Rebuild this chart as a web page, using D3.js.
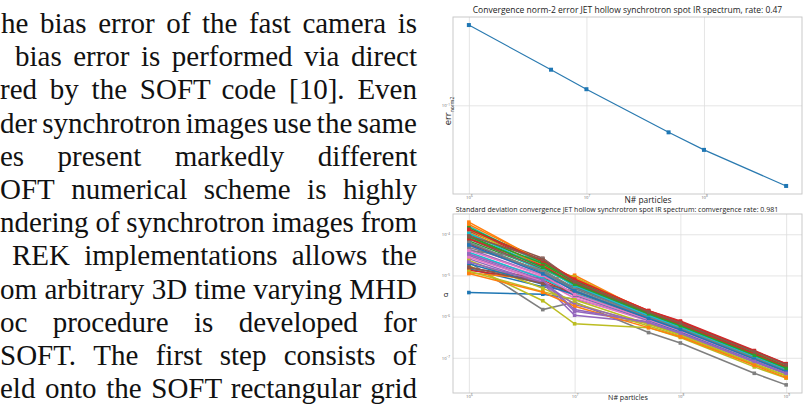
<!DOCTYPE html>
<html>
<head>
<meta charset="utf-8">
<script src="https://cdn.jsdelivr.net/npm/d3@7"></script>
<style>
  body { margin: 0; background: #fff; }
  svg { display: block; }
</style>
</head>
<body>
<svg id="root" width="803" height="406"></svg>
<script>
// ---- data ----
const bodyLines = [
  "he bias error of the fast camera is",
  "bias error is performed via direct",
  "red by the SOFT code [10]. Even",
  "der synchrotron images use the same",
  "es present markedly different",
  "OFT numerical scheme is highly",
  "ndering of synchrotron images from",
  "REK implementations allows the",
  "om arbitrary 3D time varying MHD",
  "oc procedure is developed for",
  "SOFT. The first step consists of",
  "eld onto the SOFT rectangular grid"
];

const titleTop = "Convergence norm-2 error JET hollow synchrotron spot IR spectrum, rate: 0.47";
const titleStd = "Standard deviation convergence JET hollow synchrotron spot IR spectrum: comvergence rate: 0.981";
const xLabel = "N# particles";

const particlesTop = [1e6, 5e6, 1e7, 5e7, 1e8, 5e8];
const errNorm2 = [0.43, 0.191, 0.134, 0.0612, 0.0445, 0.0231];
const xTicksTop = [1e6, 1e7, 1e8];
const yTicksTop = [1e-1];

const particlesStd = [1e6, 5e6, 1e7, 5e7, 1e8, 5e8, 1e9];
const xTicksStd = [1e6, 1e7, 1e8, 1e9];
const yTicksStd = [1e-4, 1e-5, 1e-6, 1e-7];
// one row per spectral channel (sigma at each particle count)
const sigmaSeries = [
  [3.84e-6, 3.5e-6, 2.66e-6, 9.0e-7, 4.5e-7, 9.5e-8, 4.8e-8],
  [1.97e-4, 2.11e-5, 6.8e-6, 1.30e-6, 6.7e-7, 1.30e-7, 6.2e-8],
  [9.1e-5, 1.60e-5, 5.8e-6, 1.12e-6, 5.9e-7, 1.14e-7, 5.5e-8],
  [1.20e-4, 2.11e-5, 7.7e-6, 1.40e-6, 7.8e-7, 1.50e-7, 7.2e-8],
  [4.4e-5, 1.01e-5, 3.4e-6, 8.5e-7, 4.9e-7, 1.00e-7, 5.0e-8],
  [1.20e-4, 2.62e-5, 7.3e-6, 1.35e-6, 7.4e-7, 1.45e-7, 6.95e-8],
  [3.33e-5, 9.2e-6, 3.1e-6, 8.1e-7, 4.7e-7, 9.5e-8, 4.7e-8],
  [2.11e-5, 1.48e-6, 2.25e-6, 4.1e-7, 2.29e-7, 4.2e-8, 2.2e-8],
  [1.75e-5, 2.43e-6, 6.7e-7, 5.4e-7, 3.12e-7, 6.0e-8, 3.2e-8],
  [1.58e-4, 1.92e-5, 5.3e-6, 1.08e-6, 5.6e-7, 1.08e-7, 5.2e-8],
  [1.46e-5, 5.3e-6, 4.05e-6, 9.7e-7, 5.1e-7, 1.04e-7, 5.0e-8],
  [1.17e-5, 7.7e-6, 1.01e-5, 1.23e-6, 6.3e-7, 1.20e-7, 6.0e-8],
  [6.9e-5, 1.41e-5, 6.4e-6, 1.19e-6, 6.3e-7, 1.20e-7, 5.8e-8],
  [5.8e-5, 1.22e-5, 4.9e-6, 1.08e-6, 5.9e-7, 1.14e-7, 5.6e-8],
  [2.53e-5, 6.4e-6, 1.08e-6, 7.1e-7, 3.74e-7, 7.9e-8, 4.2e-8],
  [1.52e-5, 8.4e-6, 5.3e-6, 1.03e-6, 5.4e-7, 1.04e-7, 5.2e-8],
  [5.3e-5, 1.11e-5, 4.05e-6, 9.7e-7, 5.4e-7, 1.04e-7, 5.2e-8],
  [4.0e-5, 2.53e-5, 6.4e-6, 1.08e-6, 5.6e-7, 1.08e-7, 5.2e-8],
  [1.32e-4, 1.60e-5, 9.2e-6, 1.23e-6, 6.5e-7, 1.25e-7, 6.0e-8],
  [8.3e-5, 1.33e-5, 4.4e-6, 9.4e-7, 4.9e-7, 9.5e-8, 4.7e-8],
  [6.3e-5, 1.17e-5, 4.9e-6, 1.03e-6, 5.4e-7, 1.04e-7, 5.0e-8],
  [1.10e-4, 1.75e-5, 8.4e-6, 1.30e-6, 6.7e-7, 1.30e-7, 6.2e-8],
  [1.00e-4, 1.92e-5, 6.8e-6, 1.23e-6, 6.5e-7, 1.25e-7, 6.0e-8],
  [1.33e-5, 7.7e-6, 3.4e-6, 9.0e-7, 4.7e-7, 9.0e-8, 4.6e-8],
  [3.04e-5, 7.0e-6, 1.35e-6, 7.5e-7, 4.1e-7, 8.3e-8, 4.3e-8],
  [7.6e-5, 1.46e-5, 6.1e-6, 1.12e-6, 5.9e-7, 1.14e-7, 5.5e-8],
  [2.77e-5, 7.3e-6, 2.8e-6, 7.8e-7, 4.3e-7, 8.7e-8, 4.4e-8],
  [4.8e-5, 1.33e-5, 5.0e-6, 9.7e-7, 5.2e-7, 1.00e-7, 4.8e-8],
  [2.31e-5, 4.9e-6, 2.13e-6, 5.9e-7, 3.4e-7, 6.95e-8, 3.6e-8],
  [3.65e-5, 8.4e-6, 3.7e-6, 8.5e-7, 4.7e-7, 9.1e-8, 4.6e-8],
  [1.92e-5, 6.1e-6, 3.4e-6, 8.1e-7, 4.3e-7, 8.7e-8, 4.3e-8],
  [1.73e-4, 2.19e-5, 8.4e-6, 1.35e-6, 7.0e-7, 1.34e-7, 6.5e-8],
  [1.44e-4, 2.11e-5, 7.3e-6, 1.28e-6, 6.7e-7, 1.30e-7, 6.2e-8],
  [7.9e-5, 1.69e-5, 6.4e-6, 1.21e-6, 6.5e-7, 1.25e-7, 6.0e-8],
  [2.11e-5, 6.8e-6, 1.95e-6, 6.7e-7, 3.9e-7, 7.9e-8, 4.0e-8],
  [1.60e-5, 6.4e-6, 4.05e-6, 9.0e-7, 4.9e-7, 9.5e-8, 4.7e-8],
  [4.0e-5, 1.01e-5, 3.5e-6, 8.4e-7, 4.5e-7, 9.0e-8, 4.5e-8],
  [6.3e-5, 1.22e-5, 4.4e-6, 9.4e-7, 5.0e-7, 9.8e-8, 4.9e-8],
  [1.26e-5, 4.05e-6, 2.56e-6, 6.5e-7, 3.6e-7, 7.2e-8, 3.7e-8],
  [1.06e-4, 1.52e-5, 5.6e-6, 1.06e-6, 5.6e-7, 1.08e-7, 5.3e-8],
  [5.5e-5, 1.09e-5, 4.2e-6, 9.0e-7, 4.8e-7, 9.3e-8, 4.65e-8],
  [1.11e-5, 3.9e-6, 1.78e-6, 5.4e-7, 3.24e-7, 6.6e-8, 3.3e-8],
  [8.8e-5, 1.57e-5, 6.1e-6, 1.17e-6, 6.0e-7, 1.16e-7, 5.6e-8],
  [1.32e-4, 2.27e-5, 8.1e-6, 1.40e-6, 7.5e-7, 1.45e-7, 7.1e-8],
  [3.33e-5, 7.7e-6, 1.48e-6, 7.2e-7, 4.0e-7, 8.2e-8, 4.2e-8],
  [9.1e-5, 2.44e-5, 7.0e-6, 1.30e-6, 7.0e-7, 1.39e-7, 6.8e-8]
];

// ---- layout ----
const size = { width: 803, height: 406 };
const column = { right: 417, firstBaseline: 33, lineStep: 33.2, fontSize: 29, minGap: 3 };
const lineStartX = [1, 15, 0, 0, 0, 0, 0, 12, 0, 0, 0, 0];
const boxTop = { left: 453, right: 802, top: 17, bottom: 194 };
const boxStd = { left: 453, right: 802, top: 214, bottom: 393 };
const gridColor = "#dedede";
const frameColor = "#c4c4c4";
const sansFont = "'Open Sans', 'Noto Sans', sans-serif";

const svg = d3.select("#root")
  .attr("width", size.width)
  .attr("height", size.height);

svg.append("rect").attr("width", size.width).attr("height", size.height).attr("fill", "#fff");

// ---- justified body text on the left ----
const body = svg.append("g")
  .attr("font-family", "'Liberation Serif', 'Times New Roman', serif")
  .attr("font-size", column.fontSize)
  .attr("fill", "#111");

bodyLines.forEach((line, i) => {
  const words = line.split(" ");
  const y = column.firstBaseline + i * column.lineStep;
  const x0 = lineStartX[i];
  const target = column.right - x0;
  const text = body.append("text");
  const spans = words.map(w => text.append("tspan").text(w));
  const widths = spans.map(s => s.node().getComputedTextLength());
  const gaps = Math.max(1, words.length - 1);
  let gap = (target - d3.sum(widths)) / gaps;
  let sx = 1;
  if (gap < column.minGap) {            // too tight: squeeze the line a little
    gap = column.minGap;
    sx = target / (d3.sum(widths) + gap * gaps);
  }
  text.attr("transform", `translate(${x0},${y}) scale(${sx},1)`);
  let x = 0;
  spans.forEach((s, k) => {
    s.attr("x", x).attr("y", 0);
    x += widths[k] + gap;
  });
});

// ---- helpers ----
function padLog(values) {
  const lo = Math.log10(d3.min(values)), hi = Math.log10(d3.max(values));
  const p = (hi - lo) * 0.05;
  return [Math.pow(10, lo - p), Math.pow(10, hi + p)];
}

const sup = v => {
  const e = Math.round(Math.log10(v));
  return e < 0 ? "\u2212" + (-e) : String(e);
};

function drawAxes(g, box, x, y, xTicks, yTicks) {
  // grid lines
  g.append("g")
    .attr("transform", `translate(0,${box.bottom})`)
    .call(d3.axisBottom(x).tickValues(xTicks).tickSize(-(box.bottom - box.top)).tickFormat(""))
    .call(s => s.select(".domain").remove())
    .call(s => s.selectAll("line").attr("stroke", gridColor).attr("stroke-width", 0.8));
  g.append("g")
    .attr("transform", `translate(${box.left},0)`)
    .call(d3.axisLeft(y).tickValues(yTicks).tickSize(-(box.right - box.left)).tickFormat(""))
    .call(s => s.select(".domain").remove())
    .call(s => s.selectAll("line").attr("stroke", gridColor).attr("stroke-width", 0.8));

  // frame
  g.append("rect")
    .attr("x", box.left).attr("y", box.top)
    .attr("width", box.right - box.left).attr("height", box.bottom - box.top)
    .attr("fill", "none").attr("stroke", frameColor).attr("stroke-width", 0.9);

  // tiny tick labels 10^n
  const xa = g.append("g")
    .attr("transform", `translate(0,${box.bottom})`)
    .call(d3.axisBottom(x).tickValues(xTicks).tickSize(0).tickPadding(2).tickFormat(() => "10"));
  const ya = g.append("g")
    .attr("transform", `translate(${box.left},0)`)
    .call(d3.axisLeft(y).tickValues(yTicks).tickSize(0).tickPadding(3).tickFormat(() => "10"));
  [xa, ya].forEach(a => {
    a.select(".domain").remove();
    a.selectAll(".tick text")
      .attr("font-family", sansFont)
      .attr("font-size", 4.2)
      .attr("fill", "#666")
      .append("tspan")
      .attr("dy", -1.6)
      .attr("font-size", 3)
      .text(d => sup(d));
  });
}

// ---- top chart: norm-2 error ----
const xTop = d3.scaleLog().domain(padLog(particlesTop)).range([boxTop.left, boxTop.right]);
const yTop = d3.scaleLog().domain(padLog(errNorm2)).range([boxTop.bottom, boxTop.top]);
const gTop = svg.append("g");
drawAxes(gTop, boxTop, xTop, yTop, xTicksTop, yTicksTop);

const topPts = particlesTop.map((n, i) => [n, errNorm2[i]]);
gTop.append("path")
  .datum(topPts)
  .attr("d", d3.line().x(d => xTop(d[0])).y(d => yTop(d[1])))
  .attr("fill", "none")
  .attr("stroke", "#2a7ab0")
  .attr("stroke-width", 1.2);

gTop.selectAll("rect.pt")
  .data(topPts)
  .join("rect")
  .attr("class", "pt")
  .attr("x", d => xTop(d[0]) - 2)
  .attr("y", d => yTop(d[1]) - 2)
  .attr("width", 4)
  .attr("height", 4)
  .attr("fill", "#1f77b4");

gTop.append("text")
  .attr("x", (boxTop.left + boxTop.right) / 2)
  .attr("y", 13)
  .attr("text-anchor", "middle")
  .attr("font-family", sansFont)
  .attr("font-size", 8.5)
  .attr("fill", "#222")
  .text(titleTop);

gTop.append("text")
  .attr("x", 648)
  .attr("y", 203)
  .attr("text-anchor", "middle")
  .attr("font-family", sansFont)
  .attr("font-size", 8.4)
  .attr("fill", "#222")
  .text(xLabel);

const yl = gTop.append("text")
  .attr("transform", "translate(451,111) rotate(-90)")
  .attr("text-anchor", "middle")
  .attr("font-family", sansFont)
  .attr("font-size", 9.5)
  .attr("fill", "#222");
yl.append("tspan").text("err");
yl.append("tspan").attr("dy", 2.5).attr("font-size", 5).text("norm2");

// ---- bottom chart: standard deviation ----
const xStd = d3.scaleLog().domain(padLog(particlesStd)).range([boxStd.left, boxStd.right]);
const yStd = d3.scaleLog().domain(padLog(sigmaSeries.flat())).range([boxStd.bottom, boxStd.top]);
const gStd = svg.append("g");
drawAxes(gStd, boxStd, xStd, yStd, xTicksStd, yTicksStd);

const color = d3.scaleOrdinal(d3.schemeCategory10);
const lineStd = d3.line().x(d => xStd(d[0])).y(d => yStd(d[1]));

sigmaSeries.forEach((row, i) => {
  const pts = particlesStd.map((n, k) => [n, row[k]]);
  const c = color(i % 10);
  const s = gStd.append("g");
  s.append("path")
    .datum(pts)
    .attr("d", lineStd)
    .attr("fill", "none")
    .attr("stroke", c)
    .attr("stroke-width", 1.5);
  s.selectAll("rect")
    .data(pts)
    .join("rect")
    .attr("x", d => xStd(d[0]) - 1.8)
    .attr("y", d => yStd(d[1]) - 1.8)
    .attr("width", 3.6)
    .attr("height", 3.6)
    .attr("fill", c);
});

gStd.append("text")
  .attr("x", 617)
  .attr("y", 211.5)
  .attr("text-anchor", "middle")
  .attr("font-family", sansFont)
  .attr("font-size", 7)
  .attr("fill", "#222")
  .text(titleStd);

gStd.append("text")
  .attr("x", 628)
  .attr("y", 400)
  .attr("text-anchor", "middle")
  .attr("font-family", sansFont)
  .attr("font-size", 7.1)
  .attr("fill", "#222")
  .text(xLabel);

gStd.append("text")
  .attr("x", 446)
  .attr("y", 297)
  .attr("text-anchor", "middle")
  .attr("font-family", sansFont)
  .attr("font-size", 8)
  .attr("fill", "#222")
  .text("\u03c3");
</script>
</body>
</html>
